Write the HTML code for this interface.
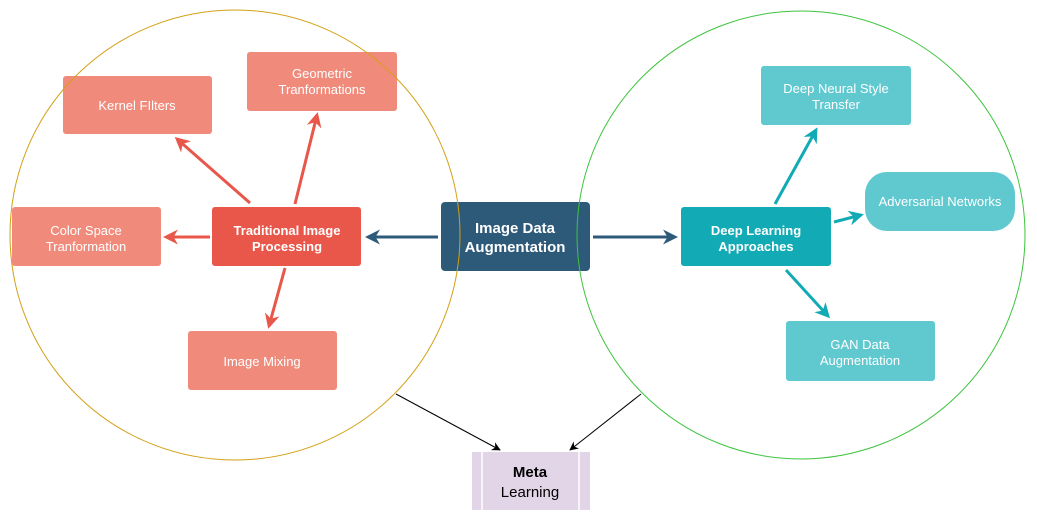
<!DOCTYPE html>
<html><head><meta charset="utf-8"><style>
html,body{margin:0;padding:0;background:#fff;}
svg{display:block;}
text{font-family:"Liberation Sans",Arial,sans-serif;font-size:13px;fill:#fff;text-anchor:middle;}
.b{font-weight:bold;}
</style></head><body>
<svg width="1037" height="523" viewBox="0 0 1037 523" xmlns="http://www.w3.org/2000/svg">
<defs>
<marker id="ar" viewBox="0 0 10 10" refX="8" refY="5" markerWidth="5" markerHeight="5" orient="auto"><path d="M0,0 L10,5 L0,10 L3,5 z" fill="#e8574a"/></marker>
<marker id="at" viewBox="0 0 10 10" refX="8" refY="5" markerWidth="5" markerHeight="5" orient="auto"><path d="M0,0 L10,5 L0,10 L3,5 z" fill="#12aab5"/></marker>
<marker id="ab" viewBox="0 0 10 10" refX="8" refY="5" markerWidth="5" markerHeight="5" orient="auto"><path d="M0,0 L10,5 L0,10 L3,5 z" fill="#2e5a7a"/></marker>
<marker id="ak" viewBox="0 0 10 10" refX="9" refY="5" markerWidth="9" markerHeight="9" orient="auto"><path d="M0,0 L10,5 L0,10 L3,5 z" fill="#000"/></marker>
</defs>
<rect x="63" y="76" width="149" height="58" rx="3" fill="#f08b7c"/>
<text x="137" y="110">Kernel FIlters</text>
<rect x="247" y="52" width="150" height="59" rx="3" fill="#f08b7c"/>
<text x="322" y="78">Geometric</text><text x="322" y="94">Tranformations</text>
<rect x="12" y="207" width="149" height="59" rx="3" fill="#f08b7c"/>
<text x="86" y="235">Color Space</text><text x="86" y="251">Tranformation</text>
<rect x="212" y="207" width="149" height="59" rx="3" fill="#e8574a"/>
<text class="b" x="287" y="235">Traditional Image</text><text class="b" x="287" y="251">Processing</text>
<rect x="188" y="331" width="149" height="59" rx="3" fill="#f08b7c"/>
<text x="262" y="366">Image Mixing</text>
<rect x="441" y="202" width="149" height="69" rx="4" fill="#2e5a7a"/>
<text class="b" x="515" y="233" style="font-size:15px">Image Data</text><text class="b" x="515" y="252" style="font-size:15px">Augmentation</text>
<rect x="681" y="207" width="150" height="59" rx="3" fill="#12aab5"/>
<text class="b" x="756" y="235">Deep Learning</text><text class="b" x="756" y="251">Approaches</text>
<rect x="761" y="66" width="150" height="59" rx="3" fill="#60c8cf"/>
<text x="836" y="93">Deep Neural Style</text><text x="836" y="109">Transfer</text>
<rect x="865" y="172" width="150" height="59" rx="22" fill="#60c8cf"/>
<text x="940" y="206">Adversarial Networks</text>
<rect x="786" y="321" width="149" height="60" rx="3" fill="#60c8cf"/>
<text x="860" y="349">GAN Data</text><text x="860" y="365">Augmentation</text>
<rect x="472" y="452" width="118" height="58" fill="#e1d5e7"/>
<line x1="482" y1="452" x2="482" y2="510" stroke="#fff" stroke-width="1.5"/>
<line x1="579" y1="452" x2="579" y2="510" stroke="#fff" stroke-width="1.5"/>
<text x="530" y="477" style="fill:#000;font-size:15px" class="b">Meta</text>
<text x="530" y="497" style="fill:#000;font-size:15px">Learning</text>
<g stroke="#e8574a" stroke-width="3" fill="none">
<line x1="250" y1="203" x2="177" y2="139" marker-end="url(#ar)"/>
<line x1="295" y1="204" x2="317" y2="115" marker-end="url(#ar)"/>
<line x1="210" y1="237" x2="166" y2="237" marker-end="url(#ar)"/>
<line x1="285" y1="268" x2="269" y2="326" marker-end="url(#ar)"/>
</g>
<g stroke="#2e5a7a" stroke-width="3" fill="none">
<line x1="438" y1="237" x2="368" y2="237" marker-end="url(#ab)"/>
<line x1="593" y1="237" x2="675" y2="237" marker-end="url(#ab)"/>
</g>
<g stroke="#12aab5" stroke-width="3" fill="none">
<line x1="775" y1="204" x2="816" y2="130" marker-end="url(#at)"/>
<line x1="834" y1="222" x2="861" y2="215" marker-end="url(#at)"/>
<line x1="786" y1="270" x2="828" y2="316" marker-end="url(#at)"/>
</g>
<g stroke="#000" stroke-width="1" fill="none">
<line x1="396" y1="394" x2="500" y2="450" marker-end="url(#ak)"/>
<line x1="641" y1="394" x2="570" y2="450" marker-end="url(#ak)"/>
</g>
<circle cx="235" cy="235" r="225" fill="none" stroke="#d4a017" stroke-width="1"/>
<circle cx="801" cy="235" r="224" fill="none" stroke="#3ec43e" stroke-width="1"/>
</svg>
</body></html>
